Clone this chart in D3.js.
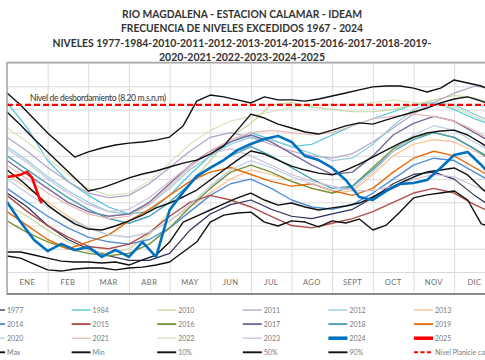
<!DOCTYPE html>
<html><head><meta charset="utf-8">
<script src="https://cdn.jsdelivr.net/npm/d3@7"></script>
<style>body{margin:0;background:#fff}svg{display:block}</style>
</head><body><svg id="c" width="485" height="360"></svg>
<script>
// ---------- data ----------
const titleLines = ["RIO MAGDALENA - ESTACION CALAMAR - IDEAM","FRECUENCIA DE NIVELES EXCEDIDOS 1967 - 2024","NIVELES 1977-1984-2010-2011-2012-2013-2014-2015-2016-2017-2018-2019-","2020-2021-2022-2023-2024-2025"];
const monthLabels = ["ENE","FEB","MAR","ABR","MAY","JUN","JUL","AGO","SEPT","OCT","NOV","DIC"];
const yTicks = [1,2,3,4,5,6,7,8,9,10];
const floodLevel = 8.20;
const floodLabel = "Nivel de desbordamiento (8.20 m.s.n.m)";
// x positions in months (0 = 1 Jan, 12 = 31 Dec)
const halfMonths = [0,0.5,1,1.5,2,2.5,3,3.5,4,4.5,5,5.5,6,6.5,7,7.5,8,8.5,9,9.5,10,10.5,11,11.5,12];
const dekads = [0,0.333,0.667,1,1.333,1.667,2,2.333,2.667,3,3.333,3.667,4,4.333,4.667,5,5.333,5.667,6,6.333,6.667,7,7.333,7.667,8,8.333,8.667,9,9.333,9.667,10,10.333,10.667,11,11.333,11.667,12];
const days2025 = [0,0.32,0.49,0.62,0.81,0.86];

// levels (m)
const y1977 = [4.4,3.8,3.0,2.4,2.0,1.7,1.5,1.5,1.8,2.8,3.5,3.9,4.1,3.7,3.4,3.3,3.5,3.7,4.2,4.8,5.2,5.3,5.0,4.3,3.7];
const y1984 = [8.3,7.2,5.8,4.9,4.3,3.8,3.5,3.6,4.3,5.2,6.0,6.6,7.0,6.7,6.4,6.5,6.9,7.3,7.6,7.9,8.2,8.3,8.0,7.6,7.3];
const y2010 = [3.9,3.4,2.8,2.3,1.9,1.8,2.0,2.6,3.6,4.8,5.8,6.8,7.4,8.2,8.3,8.1,8.0,7.9,7.9,8.0,8.2,8.4,8.6,8.5,8.2];
const y2011 = [6.8,6.2,5.5,4.9,4.4,4.2,4.3,4.8,5.5,6.2,6.8,7.0,6.8,6.5,6.2,6.0,5.9,6.1,6.6,7.2,7.8,8.3,8.7,9.0,8.9];
const y2012 = [6.4,5.8,5.1,4.5,4.0,3.6,3.5,3.9,4.6,5.4,6.0,6.5,6.8,6.7,6.4,6.1,5.8,5.9,6.5,7.3,8.0,8.3,8.2,7.8,7.4];
const y2013 = [5.2,4.6,4.0,3.4,2.9,2.6,2.5,2.7,3.2,3.8,4.4,5.0,5.4,5.2,4.9,4.6,4.4,4.5,5.2,6.0,6.5,6.7,6.6,6.2,5.8];
const y2014 = [4.6,4.0,3.4,2.9,2.5,2.3,2.2,2.4,2.9,3.6,4.3,4.8,5.0,4.6,4.1,3.8,3.7,3.9,4.4,5.0,5.6,5.9,5.8,5.3,4.8];
const y2015 = [4.3,3.6,3.0,2.5,2.1,2.0,2.2,2.7,3.4,4.0,4.3,4.1,3.8,3.4,3.0,2.9,3.1,3.3,3.6,4.0,4.4,4.6,4.4,3.9,3.5];
const y2016 = [3.2,2.7,2.3,2.0,1.8,1.7,1.8,2.2,2.9,3.8,4.6,5.3,5.6,5.3,4.9,4.6,4.4,4.7,5.5,6.3,6.8,7.0,6.8,6.3,5.8];
const y2017 = [5.8,5.2,4.6,4.0,3.6,3.4,3.5,4.0,4.8,5.6,6.2,6.6,6.9,6.6,6.1,5.6,5.2,5.3,6.0,6.9,7.4,7.7,7.5,7.0,6.5];
const y2018 = [6.0,5.4,4.8,4.2,3.7,3.3,3.1,3.4,4.0,4.8,5.5,6.0,6.4,6.0,5.5,5.0,4.6,4.7,5.4,6.2,6.7,7.0,6.8,6.3,5.7];
const y2019 = [3.6,3.0,2.4,2.0,2.3,2.6,3.2,3.7,4.3,4.9,5.3,5.5,5.2,4.9,4.7,4.8,4.5,4.3,4.6,5.3,5.9,6.2,6.0,5.5,5.0];
const y2020 = [5.0,4.4,3.8,3.3,2.9,2.6,2.5,2.7,3.2,3.9,4.7,5.4,5.8,5.5,5.1,4.8,4.5,4.6,5.3,6.2,6.9,7.3,7.1,6.6,6.1];
const y2021 = [5.6,5.0,4.4,3.9,3.5,3.3,3.4,3.9,4.7,5.5,6.2,6.7,7.0,7.1,7.0,6.9,7.0,7.3,7.6,7.7,7.8,7.7,7.5,7.1,6.6];
const y2022 = [7.2,6.6,5.9,5.2,4.6,4.3,4.4,4.9,5.7,6.5,7.1,7.5,7.7,7.9,8.1,8.2,8.2,8.2,8.3,8.4,8.3,8.2,8.1,7.7,7.3];
const y2023 = [6.3,5.7,5.0,4.4,3.9,3.6,3.7,4.2,4.9,5.6,6.1,6.3,6.0,5.6,5.2,4.9,4.7,4.5,4.5,4.7,5.0,5.2,5.1,4.7,4.3];
const y2024 = [4.01,3.15,2.38,1.90,2.21,1.95,2.08,1.65,1.95,1.65,2.29,1.65,3.67,4.44,5.13,5.48,5.82,6.25,6.51,6.73,6.86,6.60,5.99,5.82,5.48,4.96,4.23,4.10,4.49,4.79,4.83,4.96,5.48,6.04,6.17,5.61,4.96];
const y2025 = [5.09,5.18,5.31,5.05,4.10,3.97];
const yMax = [8.71,8.19,7.59,6.99,6.47,5.95,6.17,6.34,6.47,6.55,6.60,6.68,6.81,7.29,8.36,8.62,8.54,8.41,8.28,8.54,8.41,8.41,8.36,8.45,8.58,8.71,8.84,8.97,9.01,9.01,8.92,8.75,8.92,9.27,9.14,9.01,8.75];
const yMin = [1.69,1.60,1.34,1.09,1.04,1.13,1.17,1.17,1.09,1.17,1.21,1.30,1.43,1.86,2.29,3.15,3.45,3.54,3.58,3.15,2.98,3.20,3.15,2.94,3.20,3.11,3.28,2.81,3.02,3.58,4.19,4.32,4.40,4.49,4.10,3.07,2.89];
const y10 = [1.86,1.86,1.73,1.60,1.47,1.43,1.43,1.39,1.43,1.30,1.52,1.73,2.29,3.15,3.41,3.67,3.93,4.19,4.40,4.10,3.88,3.97,3.80,3.67,3.76,3.84,3.97,4.23,4.53,4.83,5.09,5.31,5.39,5.48,5.18,4.62,4.10];
const y50 = [5.39,4.96,4.44,3.88,3.45,3.07,2.85,2.81,2.98,3.20,3.45,3.76,3.97,4.23,4.53,4.96,5.39,5.82,6.21,6.08,5.82,5.56,5.39,5.26,5.18,5.39,5.65,5.95,6.25,6.55,6.81,6.99,7.07,7.11,6.90,6.55,6.17];
const y90 = [7.89,7.33,6.73,6.17,5.61,5.05,4.49,4.62,4.83,5.05,5.22,5.35,5.52,5.69,5.82,6.08,6.43,7.11,7.80,7.63,7.37,7.20,7.03,6.94,7.11,7.29,7.42,7.37,7.55,7.72,7.89,8.06,8.28,8.45,8.54,8.36,8.15];

const legendNames = ["1977","1984","2010","2011","2012","2013","2014","2015","2016","2017","2018","2019","2020","2021","2022","2023","2024","2025","Max","Min","10%","50%","90%","Nivel Planicie calamar"];

// ---------- styles ----------
const style = {
 "1977":{c:"#2b2f5a",w:1.2,x:halfMonths,v:y1977},
 "1984":{c:"#4cc3dc",w:1.2,x:halfMonths,v:y1984},
 "2010":{c:"#c3d69b",w:1.2,x:halfMonths,v:y2010},
 "2011":{c:"#b3a2c7",w:1.2,x:halfMonths,v:y2011},
 "2012":{c:"#93cddd",w:1.2,x:halfMonths,v:y2012},
 "2013":{c:"#fac090",w:1.2,x:halfMonths,v:y2013},
 "2014":{c:"#558ed5",w:1.4,x:halfMonths,v:y2014},
 "2015":{c:"#b0504c",w:1.4,x:halfMonths,v:y2015},
 "2016":{c:"#77933c",w:1.4,x:halfMonths,v:y2016},
 "2017":{c:"#7a6a98",w:1.4,x:halfMonths,v:y2017},
 "2018":{c:"#4aa0b5",w:1.4,x:halfMonths,v:y2018},
 "2019":{c:"#e46c0a",w:1.4,x:halfMonths,v:y2019},
 "2020":{c:"#b9cde5",w:1.2,x:halfMonths,v:y2020},
 "2021":{c:"#e6b9b8",w:1.2,x:halfMonths,v:y2021},
 "2022":{c:"#d7e4bd",w:1.2,x:halfMonths,v:y2022},
 "2023":{c:"#ccc1da",w:1.2,x:halfMonths,v:y2023},
 "Max":{c:"#111",w:1.4,x:dekads,v:yMax},
 "Min":{c:"#111",w:1.4,x:dekads,v:yMin},
 "10%":{c:"#111",w:1.4,x:dekads,v:y10},
 "50%":{c:"#111",w:1.4,x:dekads,v:y50},
 "90%":{c:"#111",w:1.4,x:dekads,v:y90},
 "2024":{c:"#0070c0",w:2.6,x:dekads,v:y2024},
 "2025":{c:"#ff0000",w:2.6,x:days2025,v:y2025}
};
const drawOrder = ["1977","1984","2010","2011","2012","2013","2014","2015","2016","2017","2018","2019","2020","2021","2022","2023","Max","Min","10%","50%","90%","2024","2025"];

// ---------- layout ----------
const svg = d3.select("#c");
const L = 7, R = 494.8, T = 62.5, B = 294, AX = 272;
const x = d3.scaleLinear().domain([0,12]).range([L,R]);
const y = d3.scaleLinear().domain([1,10]).range([AX,63]);
const font = "Lato, 'Open Sans', sans-serif";

svg.append("rect").attr("width",485).attr("height",360).attr("fill","#fff");

// titles
const tw = [240,242,379,166];
titleLines.forEach((t,i)=>{
  svg.append("text").attr("x",242).attr("y",18+i*14.3).attr("text-anchor","middle")
    .attr("font-family",font).attr("font-weight","bold").attr("font-size",10.6)
    .attr("fill","#333").attr("textLength",tw[i]).attr("lengthAdjust","spacingAndGlyphs").text(t);
});

// grid via axes
const gx = svg.append("g").attr("transform",`translate(0,${B})`)
  .call(d3.axisBottom(x).tickValues(d3.range(0,13)).tickSize(-(B-T)).tickFormat(""));
const gy = svg.append("g").attr("transform",`translate(${L},0)`)
  .call(d3.axisLeft(y).tickValues(yTicks).tickSize(-(R-L)).tickFormat(""));
[gx,gy].forEach(g=>{g.select(".domain").remove(); g.selectAll(".tick line").attr("stroke","#dcdcdc").attr("stroke-width",1);});

// month labels
const band = d3.scaleBand().domain(monthLabels).range([L,R]);
const gm = svg.append("g").attr("transform",`translate(0,${AX+1})`)
  .call(d3.axisBottom(band).tickSize(0).tickPadding(7));
gm.select(".domain").remove();
gm.selectAll("text").attr("font-family",font).attr("font-size",7.6).attr("fill","#6f6f6f").attr("letter-spacing",0.4);

// series
const line = (xs)=>d3.line().x((d,i)=>x(xs[i])).y(d=>y(d));
drawOrder.forEach(k=>{
  const s = style[k];
  svg.append("path").datum(s.v).attr("d",line(s.x)).attr("fill","none")
    .attr("stroke",s.c).attr("stroke-width",s.w).attr("stroke-linejoin","round");
});

// flood level
svg.append("line").attr("x1",L).attr("x2",R).attr("y1",y(floodLevel)).attr("y2",y(floodLevel))
  .attr("stroke","#ff0000").attr("stroke-width",2.3).attr("stroke-dasharray","6,3");
svg.append("text").attr("x",30).attr("y",y(floodLevel)-3.5).attr("font-family",font).attr("font-size",8.6)
  .attr("fill","#333").attr("textLength",136).text(floodLabel);

// plot border
svg.append("path").attr("d",`M${R+5},${T}H${L}V${B}H${R+5}`).attr("fill","none").attr("stroke","#a6a6a6").attr("stroke-width",1.5);
svg.append("line").attr("x1",L).attr("x2",485).attr("y1",B).attr("y2",B).attr("stroke","#8c8c8c").attr("stroke-width",2);

// legend
legendNames.forEach((n,i)=>{
  const col = i%6, row = Math.floor(i/6);
  const lx = -14 + col*85.6, ly = 310 + row*14.1;
  const g = svg.append("g");
  if(n.startsWith("Nivel")){
    g.append("line").attr("x1",lx).attr("x2",lx+19).attr("y1",ly).attr("y2",ly).attr("stroke","#ff0000").attr("stroke-width",2).attr("stroke-dasharray","4,2.5");
  } else {
    const s = style[n];
    g.append("line").attr("x1",lx).attr("x2",lx+19).attr("y1",ly).attr("y2",ly).attr("stroke",s.c).attr("stroke-width",s.w>1.3 ? s.w*1.35 : 1.3);
  }
  g.append("text").attr("x",lx+21).attr("y",ly+2.5).attr("font-family",font).attr("font-size",7).attr("fill","#7a7a7a").text(n);
});
</script></body></html>
